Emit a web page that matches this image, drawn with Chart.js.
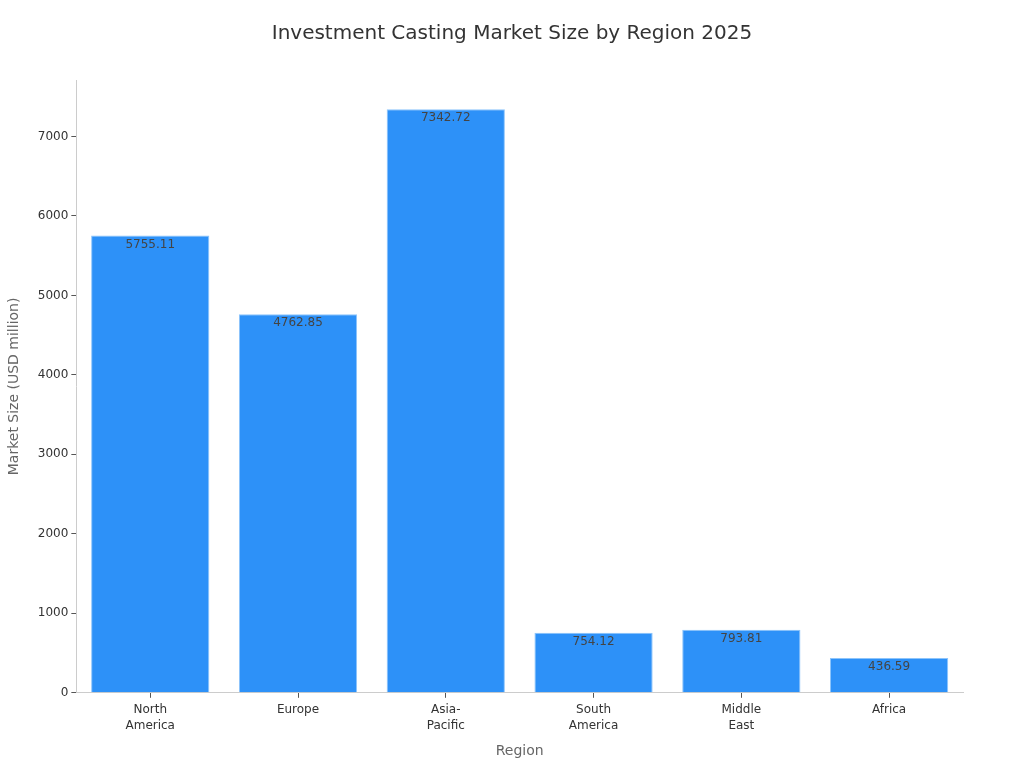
<!DOCTYPE html>
<html lang="en">
<head>
<meta charset="UTF-8">
<title>Investment Casting Market Size by Region 2025</title>
<script src="https://cdn.jsdelivr.net/npm/chart.js@4.4.0/dist/chart.umd.min.js"></script>
<style>
  html, body { margin: 0; padding: 0; background: #fff; }
  #wrap { width: 1024px; height: 768px; }
</style>
</head>
<body>
<div id="wrap"><canvas id="myChart" width="1024" height="768"></canvas></div>
<script>
// chart data
const regions = [["North", "America"], "Europe", ["Asia-", "Pacific"], ["South", "America"], ["Middle", "East"], "Africa"];
const marketSize = [5755.11, 4762.85, 7342.72, 754.12, 793.81, 436.59];
const yTicks = [0, 1000, 2000, 3000, 4000, 5000, 6000, 7000];
const chartTitle = 'Investment Casting Market Size by Region 2025';

Chart.defaults.font.family = "'DejaVu Sans', sans-serif";

// title centred on the whole canvas + value labels inside top of each bar
const barLabels = {
  id: 'barLabels',
  afterDraw(chart) {
    const ctx = chart.ctx;
    ctx.save();
    ctx.font = "20px 'DejaVu Sans', sans-serif";
    ctx.fillStyle = '#333';
    ctx.textAlign = 'center';
    ctx.textBaseline = 'middle';
    ctx.fillText(chartTitle, chart.width / 2, 34);

    const meta = chart.getDatasetMeta(0);
    ctx.font = "12px 'DejaVu Sans', sans-serif";
    ctx.fillStyle = '#444';
    ctx.textBaseline = 'top';
    meta.data.forEach(function(bar, i) {
      ctx.fillText(marketSize[i].toFixed(2), bar.x, bar.y + 3);
    });
    ctx.restore();
  }
};

new Chart(document.getElementById('myChart'), {
  type: 'bar',
  data: {
    labels: regions,
    datasets: [{
      data: marketSize,
      backgroundColor: '#2d91f8',
      borderColor: '#8cc4fb',
      borderWidth: 1,
      barPercentage: 1,
      categoryPercentage: 0.8
    }]
  },
  options: {
    responsive: false,
    animation: false,
    layout: { padding: { left: 2, right: 61, top: 80, bottom: 4 } },
    plugins: {
      legend: { display: false },
      tooltip: { enabled: false },
      title: { display: false }
    },
    scales: {
      x: {
        border: { color: '#ccc' },
        grid: { drawOnChartArea: false, offset: false, tickLength: 5, tickColor: '#555' },
        ticks: { color: '#333', font: { size: 12, lineHeight: 1.35 }, padding: 4 },
        title: { display: true, text: 'Region', color: '#666', font: { size: 14 }, padding: { top: 5 } }
      },
      y: {
        min: 0,
        max: 7710,
        afterBuildTicks(axis) {
          axis.ticks = yTicks.map(v => ({ value: v }));
        },
        border: { color: '#ccc' },
        grid: { drawOnChartArea: false, tickLength: 5, tickColor: '#555' },
        ticks: { color: '#333', font: { size: 12 }, padding: 3, callback: v => String(v) },
        title: { display: true, text: 'Market Size (USD million)', color: '#666', font: { size: 14 }, padding: { bottom: 12 } }
      }
    }
  },
  plugins: [barLabels]
});
</script>
</body>
</html>
